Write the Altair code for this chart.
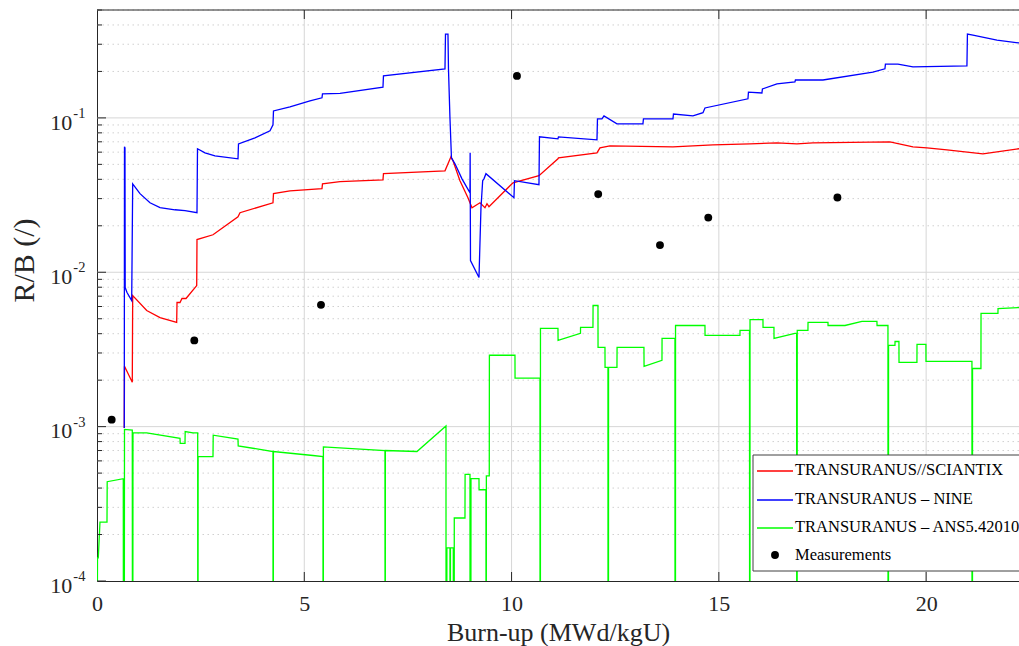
import altair as alt
import pandas as pd

# ---------------------------------------------------------------- data
# Values below the axis floor (1e-4) are drawn as BELOW and clipped.
BELOW = 1e-5

# TRANSURANUS//SCIANTIX
sciantix_bu = [0.658, 0.663, 0.851, 0.861, 1.199, 1.520, 1.922, 1.930, 2.002, 2.050,
               2.147, 2.405, 2.412, 2.798, 3.401, 3.449, 4.245, 4.257, 4.655, 5.427,
               5.439, 5.861, 6.898, 6.910, 8.394, 8.538, 8.587, 8.755, 8.948, 9.045,
               9.238, 9.358, 9.407, 9.455, 10.034, 10.661, 11.119, 11.131, 12.060, 12.132,
               12.373, 13.893, 14.858, 15.750, 16.401, 16.884, 17.270, 19.127, 19.682, 20.019,
               20.502, 21.370, 22.238, 22.50]
sciantix_rb = [0.00098, 0.00246, 0.00194, 0.00706, 0.00565, 0.00509, 0.00473, 0.00637, 0.00637, 0.00676,
               0.00676, 0.00820, 0.0163, 0.0175, 0.0229, 0.0243, 0.0282, 0.0323, 0.0337, 0.0348,
               0.0374, 0.0386, 0.0397, 0.0435, 0.0454, 0.0560, 0.0527, 0.0392, 0.0304, 0.0262,
               0.0282, 0.0262, 0.0278, 0.0266, 0.0380, 0.0422, 0.0543, 0.0551, 0.0594, 0.0640,
               0.0659, 0.0650, 0.0669, 0.0679, 0.0689, 0.0679, 0.0689, 0.0700, 0.0650, 0.0640,
               0.0621, 0.0585, 0.0631, 0.064]

# TRANSURANUS - NINE
nine_bu = [0.658, 0.663, 0.675, 0.680, 0.724, 0.837, 0.861, 1.037, 1.278, 1.520,
           1.881, 2.123, 2.412, 2.424, 2.605, 2.846, 3.401, 3.413, 3.811, 4.173,
           4.245, 4.257, 4.655, 5.137, 5.427, 5.439, 5.861, 6.898, 6.910, 8.394,
           8.406, 8.466, 8.478, 8.514, 8.550, 8.635, 8.804, 8.997, 9.001, 9.009,
           9.214, 9.262, 9.303, 9.334, 9.382, 10.058, 10.070, 10.661, 10.673, 11.119,
           11.131, 12.060, 12.072, 12.180, 12.229, 12.542, 13.169, 13.181, 13.893, 13.905,
           14.375, 14.617, 14.665, 15.702, 15.714, 16.039, 16.051, 16.401, 16.835, 16.847,
           17.511, 18.717, 19.006, 19.018, 19.320, 19.682, 20.984, 20.996, 21.129, 21.708,
           22.238, 22.50]
nine_rb = [0.00098, 0.0650, 0.0640, 0.00796, 0.0074, 0.00656, 0.0374, 0.0323, 0.0282, 0.0262,
           0.0254, 0.0251, 0.0243, 0.0631, 0.0594, 0.0568, 0.0543, 0.0679, 0.0743, 0.0824,
           0.0901, 0.111, 0.118, 0.129, 0.135, 0.143, 0.144, 0.158, 0.187, 0.208,
           0.349, 0.349, 0.208, 0.100, 0.0551, 0.0504, 0.0403, 0.0327, 0.0594, 0.0119,
           0.00925, 0.0262, 0.0392, 0.0403, 0.0435, 0.0304, 0.0392, 0.0369, 0.0754, 0.0731,
           0.0754, 0.0721, 0.0985, 0.0985, 0.103, 0.0915, 0.0915, 0.0985, 0.0985, 0.106,
           0.103, 0.108, 0.116, 0.133, 0.147, 0.145, 0.154, 0.166, 0.171, 0.176,
           0.176, 0.198, 0.208, 0.223, 0.223, 0.214, 0.217, 0.349, 0.344, 0.319,
           0.306, 0.300]

# TRANSURANUS - ANS5.4-2010
ans_bu = [0.000, 0.012, 0.031, 0.072, 0.241, 0.246, 0.634, 0.639, 0.658, 0.663,
          0.851, 0.856, 0.863, 0.868, 1.199, 2.002, 2.007, 2.123, 2.127, 2.315,
          2.429, 2.431, 2.436, 2.439, 2.798, 2.803, 3.401, 3.406, 4.245, 4.247,
          4.252, 4.255, 4.727, 5.210, 5.451, 5.453, 5.458, 5.461, 6.946, 6.949,
          6.953, 6.956, 7.718, 8.418, 8.420, 8.437, 8.440, 8.514, 8.516, 8.524,
          8.526, 8.594, 8.596, 8.616, 8.618, 8.876, 8.879, 8.997, 8.999, 9.018,
          9.021, 9.214, 9.216, 9.382, 9.385, 9.390, 9.392, 9.462, 9.465, 10.082,
          10.084, 10.685, 10.687, 10.695, 10.697, 11.119, 11.122, 11.662, 11.664, 11.963,
          11.966, 12.084, 12.086, 12.253, 12.255, 12.325, 12.327, 12.337, 12.339, 12.542,
          12.545, 13.193, 13.196, 13.628, 13.630, 13.941, 13.943, 13.953, 13.955, 14.665,
          14.667, 15.509, 15.511, 15.740, 15.742, 15.750, 15.752, 16.064, 16.066, 16.329,
          16.331, 16.835, 16.876, 16.879, 16.888, 16.891, 17.149, 17.151, 17.632, 17.634,
          18.042, 18.452, 18.813, 18.816, 19.079, 19.081, 19.091, 19.093, 19.248, 19.250,
          19.344, 19.346, 19.778, 19.780, 19.995, 19.997, 21.105, 21.107, 21.117, 21.119,
          21.322, 21.324, 21.732, 21.734, 22.238, 22.50]
ans_rb = [BELOW, 0.000141, 0.000141, 0.000241, 0.000241, 0.00044, 0.00046, BELOW, BELOW, 0.00096,
          0.00095, BELOW, BELOW, 0.00091, 0.00091, 0.00084, 0.00078, 0.00078, 0.00093, 0.00091,
          0.00091, BELOW, BELOW, 0.00064, 0.00064, 0.00088, 0.00083, 0.00075, 0.00069, BELOW,
          BELOW, 0.00069, 0.00067, 0.00065, 0.00064, BELOW, BELOW, 0.00074, 0.00070, BELOW,
          BELOW, 0.00070, 0.00069, 0.00101, BELOW, BELOW, 0.000164, 0.000164, BELOW, BELOW,
          0.000164, 0.000164, BELOW, BELOW, 0.000256, 0.000256, 0.00049, 0.00049, BELOW, BELOW,
          0.00046, 0.00046, 0.00039, 0.00039, BELOW, BELOW, 0.00048, 0.00048, 0.00290, 0.00290,
          0.00206, 0.00206, BELOW, BELOW, 0.00433, 0.00433, 0.00362, 0.00402, 0.00440, 0.00440,
          0.00609, 0.00609, 0.00326, 0.00326, 0.00242, 0.00242, BELOW, BELOW, 0.00242, 0.00242,
          0.00326, 0.00326, 0.00246, 0.00269, 0.00373, 0.00373, BELOW, BELOW, 0.00452, 0.00452,
          0.00390, 0.00390, 0.00420, 0.00420, BELOW, BELOW, 0.00494, 0.00494, 0.00440, 0.00440,
          0.00373, 0.00402, 0.00402, BELOW, BELOW, 0.00420, 0.00420, 0.00473, 0.00473, 0.00452,
          0.00452, 0.00480, 0.00480, 0.00452, 0.00452, BELOW, BELOW, 0.00336, 0.00336, 0.00356,
          0.00356, 0.00261, 0.00261, 0.00341, 0.00341, 0.00265, 0.00265, BELOW, BELOW, 0.00238,
          0.00238, 0.00541, 0.00541, 0.00582, 0.00591, 0.00591]

# Measurements
meas_bu = [0.354, 2.347, 5.403, 10.13, 12.09, 13.58, 14.745, 17.86]
meas_rb = [0.00111, 0.00362, 0.00615, 0.187, 0.0321, 0.0150, 0.0226, 0.0305]

legend_labels = ["TRANSURANUS//SCIANTIX", "TRANSURANUS \u2013 NINE",
                 "TRANSURANUS \u2013 ANS5.42010", "Measurements"]
series_colors = ["#ff0000", "#0000ff", "#00ff00", "#000000"]

x_ticks = [0, 5, 10, 15, 20]
y_decades = [1e-4, 1e-3, 1e-2, 1e-1]
y_exponents = ["-4", "-3", "-2", "-1"]
y_minor = [m * d for d in y_decades for m in range(2, 10) if m * d <= 0.5]

# ---------------------------------------------------------------- layout
W, H = 922, 571
FONT = "Liberation Serif"
INK = "#262626"
X_MAX = 22.24

x_scale = alt.Scale(domain=[0, X_MAX], nice=False, zero=False)
y_scale = alt.Scale(type="log", domain=[1e-4, 0.5], nice=False)

x_axis = alt.Axis(values=x_ticks, format="d", grid=False, ticks=False,
                  domainColor=INK, domainWidth=1, labelFlush=False,
                  labelFont=FONT, labelFontSize=22, labelColor=INK, labelPadding=12.3,
                  title="Burn-up (MWd/kgU)", titleFont=FONT, titleFontSize=26,
                  titleFontWeight="normal", titleColor=INK, titleY=59,
                  titleBaseline="alphabetic")
y_axis = alt.Axis(labels=False, ticks=False, grid=False, domainColor=INK, domainWidth=1,
                  title="R/B (/)", titleFont=FONT, titleFontSize=30,
                  titleFontWeight="normal", titleColor=INK, titleAngle=270,
                  titleX=-64, titleY=250, titleAlign="center",
                  titleBaseline="alphabetic")

X = alt.X("bu:Q", scale=x_scale, axis=x_axis)
Y = alt.Y("rb:Q", scale=y_scale, axis=y_axis)


def frame(bu=None, rb=None, **extra):
    cols = {}
    if bu is not None:
        cols["bu"] = bu
    if rb is not None:
        cols["rb"] = rb
    cols.update(extra)
    df = pd.DataFrame(cols)
    df["i"] = range(len(df))
    return df


one = pd.DataFrame({"k": [0]})

# grid
grid_minor = alt.Chart(frame(rb=y_minor)).mark_rule(
    color="#d0d0d0", strokeWidth=1, strokeDash=[1.5, 3.5]).encode(y=Y)
grid_major_y = alt.Chart(frame(rb=y_decades[1:])).mark_rule(
    color="#d6d6d6", strokeWidth=1).encode(y=Y)
grid_major_x = alt.Chart(frame(bu=x_ticks[1:])).mark_rule(
    color="#d6d6d6", strokeWidth=1).encode(x=X)


# simulation curves
def curve(bu, rb, color):
    return alt.Chart(frame(bu=bu, rb=rb)).mark_line(
        color=color, strokeWidth=1.3, clip=True).encode(
        x=X, y=Y, order=alt.Order("i:Q"))


line_sciantix = curve(sciantix_bu, sciantix_rb, series_colors[0])
line_nine = curve(nine_bu, nine_rb, series_colors[1])
line_ans = curve(ans_bu, ans_rb, series_colors[2])

dots = alt.Chart(frame(bu=meas_bu, rb=meas_rb)).mark_circle(
    size=62, color="black", opacity=1).encode(x=X, y=Y)

# inward ticks and top frame
tick_left_major = alt.Chart(frame(rb=y_decades)).mark_rule(color=INK).encode(
    y=Y, x=alt.value(0), x2=alt.value(9))
tick_left_minor = alt.Chart(frame(rb=y_minor)).mark_rule(color=INK).encode(
    y=Y, x=alt.value(0), x2=alt.value(5))
tick_bottom = alt.Chart(frame(bu=x_ticks[1:])).mark_rule(color=INK).encode(
    x=X, y=alt.value(H - 9), y2=alt.value(H))
tick_top = alt.Chart(frame(bu=x_ticks[1:])).mark_rule(color=INK).encode(
    x=X, y=alt.value(0), y2=alt.value(9))
top_frame = alt.Chart(one).mark_rule(color=INK).encode(
    x=alt.value(0), x2=alt.value(W), y=alt.value(0))

# y tick labels as 10 with a raised exponent
ylab_df = frame(rb=y_decades, base=["10"] * len(y_decades), exp=y_exponents)
ylab_base = alt.Chart(ylab_df).mark_text(
    font=FONT, fontSize=22, color=INK, align="right", baseline="middle", dy=4.7
).encode(y=Y, x=alt.value(-24.7), text="base:N")
ylab_exp = alt.Chart(ylab_df).mark_text(
    font=FONT, fontSize=14.5, color=INK, align="left", baseline="middle", dy=-4
).encode(y=Y, x=alt.value(-23.7), text="exp:N")

# legend box
LEG_X, LEG_Y, LEG_Y2 = 656, 445, 561
row_y = [460, 489, 517, 545]
legend_layers = [
    alt.Chart(one).mark_rect(fill="white", stroke="#404040", strokeWidth=1).encode(
        x=alt.value(LEG_X), x2=alt.value(W + 60), y=alt.value(LEG_Y), y2=alt.value(LEG_Y2))
]
for k, (label, col) in enumerate(zip(legend_labels, series_colors)):
    if k < 3:
        legend_layers.append(
            alt.Chart(one).mark_rule(color=col, strokeWidth=1.3).encode(
                x=alt.value(LEG_X + 4), x2=alt.value(LEG_X + 40), y=alt.value(row_y[k] + 1)))
    else:
        legend_layers.append(
            alt.Chart(one).mark_circle(size=62, color=col, opacity=1).encode(
                x=alt.value(LEG_X + 22), y=alt.value(row_y[k])))
    legend_layers.append(
        alt.Chart(one).mark_text(font=FONT, fontSize=16.5, color="black",
                                 align="left", baseline="middle").encode(
            x=alt.value(LEG_X + 42), y=alt.value(row_y[k]), text=alt.value(label)))

chart = alt.layer(
    grid_minor, grid_major_y, grid_major_x,
    line_sciantix, line_nine, line_ans, dots,
    tick_left_major, tick_left_minor, tick_bottom, tick_top, top_frame,
    ylab_base, ylab_exp,
    *legend_layers,
).properties(
    width=W, height=H,
    autosize=alt.AutoSizeParams(type="none"),
    padding={"left": 97, "top": 10, "right": 0, "bottom": 65},
    background="white",
).configure_view(stroke=None)

chart.save("out.html", embed_options={"renderer": "svg", "actions": False})
